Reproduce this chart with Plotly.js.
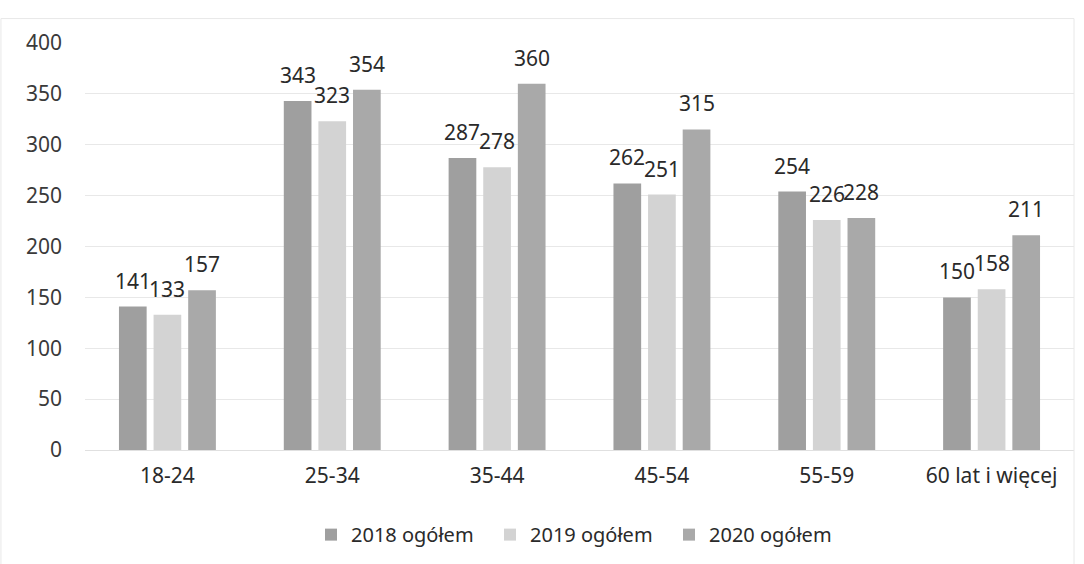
<!DOCTYPE html>
<html>
<head>
<meta charset="utf-8">
<script src="https://cdn.plot.ly/plotly-3.0.1.min.js"></script>
<style>html,body{margin:0;padding:0;background:#fff;}#chart{width:1084px;height:564px;}</style>
</head>
<body>
<div id="chart"></div>
<script>
const categories = ["18-24", "25-34", "35-44", "45-54", "55-59", "60 lat i więcej"];
const seriesNames = ["2018 ogółem", "2019 ogółem", "2020 ogółem"];
const values2018 = [141, 343, 287, 262, 254, 150];
const values2019 = [133, 323, 278, 251, 226, 158];
const values2020 = [157, 354, 360, 315, 228, 211];
const yTicks = [0, 50, 100, 150, 200, 250, 300, 350, 400];

const colors = ["#9f9f9f", "#d3d3d3", "#a9a9a9"];
const allValues = [values2018, values2019, values2020];
const font = "Noto Sans, Open Sans, sans-serif";

const W = 1084, H = 564;
const margin = {l: 85, r: 10, t: 43, b: 114};
const bargap = 0.37;

const traces = allValues.map((vals, i) => ({
  type: "bar",
  name: seriesNames[i],
  x: categories,
  y: vals,
  marker: {color: colors[i]},
  hoverinfo: "x+y+name"
}));

// value labels placed above each bar via the axes (category + value), shifted to the bar's slot
const catW = (W - margin.l - margin.r) / categories.length;
const slotW = catW * (1 - bargap) / allValues.length;
const annotations = [];
allValues.forEach((vals, i) => {
  vals.forEach((v, j) => {
    annotations.push({
      x: categories[j], y: v, xref: "x", yref: "y",
      text: String(v), showarrow: false,
      xanchor: "center", yanchor: "bottom",
      xshift: (i - (allValues.length - 1) / 2) * slotW,
      yshift: 10,
      font: {family: font, size: 21, color: "#2a2a2a"}
    });
  });
});

const layout = {
  width: W,
  height: H,
  margin: margin,
  paper_bgcolor: "#fff",
  plot_bgcolor: "#fff",
  barmode: "group",
  bargap: bargap,
  bargroupgap: 0.2,
  showlegend: true,
  annotations: annotations,
  legend: {
    orientation: "h",
    x: 0.5, xanchor: "center",
    y: -0.16, yanchor: "top",
    font: {family: font, size: 20, color: "#2a2a2a"},
    itemwidth: 30,
    entrywidth: 134,
    entrywidthmode: "pixels",
    traceorder: "normal"
  },
  xaxis: {
    type: "category",
    automargin: false,
    tickfont: {family: font, size: 21, color: "#2a2a2a"},
    showgrid: false,
    showline: false,
    zeroline: false,
    ticks: "",
    ticklabelstandoff: 11
  },
  yaxis: {
    range: [0, 400],
    automargin: false,
    tickvals: yTicks,
    ticktext: yTicks.map(String),
    tickfont: {family: font, size: 21, color: "#3a3a3a"},
    gridcolor: "#e8e8e8",
    gridwidth: 1,
    zeroline: true,
    zerolinecolor: "#e0e0e0",
    showline: false,
    ticks: "",
    ticklabelstandoff: 22
  },
  shapes: [{
    type: "rect", xref: "paper", yref: "paper",
    x0: -0.085, x1: 1.0, y0: -0.31, y1: 1.06,
    line: {color: "#e8e8e8", width: 1}
  }]
};

Plotly.newPlot("chart", traces, layout, {displayModeBar: false, staticPlot: true});
</script>
</body>
</html>
